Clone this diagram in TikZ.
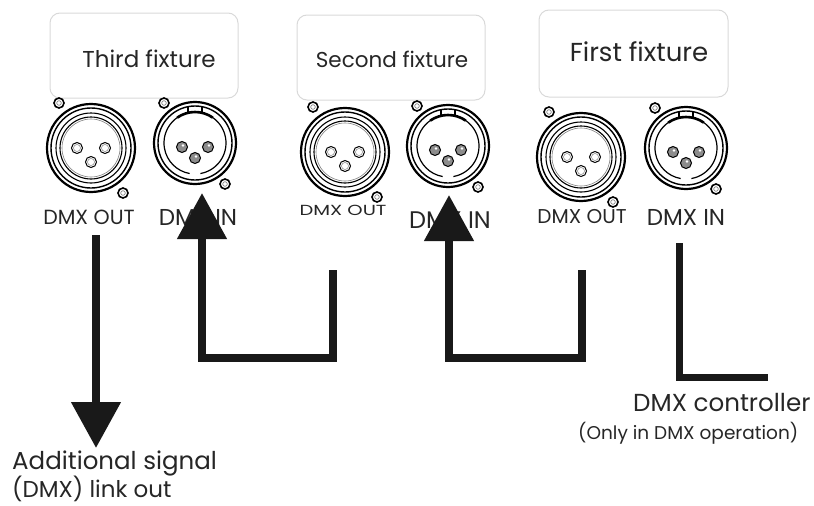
\documentclass[tikz,border=0pt]{standalone}
\usepackage{fontspec}
\setmainfont{Poppins}
\usetikzlibrary{arrows.meta}
\definecolor{boxgray}{gray}{0.85}
\tikzset{
  fixbox/.style={draw=boxgray, line width=1pt, rounded corners=10pt},
  lbl/.style={inner sep=0pt, text=black!85},
  cable/.style={line width=8pt, draw=black!90},
  tip/.style={-{Triangle[width=48pt,length=46pt]}},
  screw/.pic={
    \draw[line width=1.6pt] (0,0) circle (5pt);
    \draw[line width=0.5pt, black!60] (0,0) circle (2.3pt);
  },
  femaleconn/.pic={
    \draw[line width=2.2pt] (0,0) circle (44pt);
    \draw[line width=1.4pt] (0,0) circle (40pt);
    \draw[line width=1.1pt] (0,0) circle (35pt);
    \draw[line width=1.1pt] (0,0) circle (31pt);
    \draw[line width=0.6pt, black!50] (0,0) circle (29pt);
    \foreach \p in {(-14,0),(14,0),(0,14)}{
      \draw[line width=1pt] \p circle (5.5pt);
      \draw[line width=0.5pt, black!50] \p circle (3.5pt);
    }
    \pic at (-32,-45) {screw};
    \pic at (32,45) {screw};
  },
  maleconn/.pic={
    \draw[line width=2.2pt] (0,0) circle (41pt);
    \draw[line width=1.4pt] (0,0) circle (37pt);
    \draw[line width=1.2pt] (280:31pt) arc (280:620:31pt);
    \draw[line width=1.2pt] (-7,-30.5) -- (-7,-37) (7,-30.5) -- (7,-37);
    \draw[line width=2.6pt] (55:31pt) arc (55:125:31pt);
    \foreach \p in {(-13,4),(13,4),(0,15)}{
      \draw[line width=1pt, fill=black!45] \p circle (5.5pt);
      \fill[white] \p ++(1,-1.5) circle (1.3pt);
    }
    \pic at (-31,-40) {screw};
    \pic at (30,41) {screw};
  }
}
\begin{document}
\begin{tikzpicture}[x=1pt, y=-1pt]
\useasboundingbox (0,0) rectangle (814,506);
% fixture boxes
\draw[fixbox] (50,13) rectangle (238,98);
\node[lbl, font=\fontsize{23}{26}\selectfont] (t3) at (149,59) {Third fixture};
\draw[fixbox] (297,15) rectangle (485,100);
\node[lbl, font=\fontsize{21.5}{24}\selectfont] (t2) at (392,59) {Second fixture};
\draw[fixbox] (539,10) rectangle (728,97);
\node[lbl, font=\fontsize{26}{28}\selectfont] (t1) at (639,52) {First fixture};
% connectors
\pic at (91,148) {femaleconn};
\pic at (195,143) {maleconn};
\pic at (345,152) {femaleconn};
\pic at (448,146) {maleconn};
\pic at (581,157) {femaleconn};
\pic at (686,148) {maleconn};
% port labels
\node[lbl, font=\fontsize{20.5}{22}\selectfont] (o3) at (89,217) {DMX OUT};
\node[lbl, font=\fontsize{23}{24}\selectfont] (i3) at (198,217) {DMX IN};
\node[lbl, font=\fontsize{19.5}{22}\selectfont] (o2) at (343,210) {\scalebox{1}[0.75]{DMX OUT}};
\node[lbl, font=\fontsize{24}{26}\selectfont] (i2) at (450,220) {DMX IN};
\node[lbl, font=\fontsize{20}{22}\selectfont] (o1) at (582,217) {DMX OUT};
\node[lbl, font=\fontsize{23}{24}\selectfont] (i1) at (686,217) {DMX IN};
% bottom labels
\node[lbl, anchor=west, font=\fontsize{24.5}{26}\selectfont] (add1) at (12,463) {Additional signal};
\node[lbl, anchor=west, font=\fontsize{23}{26}\selectfont] (add2) at (12,489) {(DMX) link out};
\node[lbl, anchor=west, font=\fontsize{24.6}{26}\selectfont] (ctl) at (633,403) {DMX controller};
\node[lbl, anchor=west, font=\fontsize{18.5}{20}\selectfont] (ctl2) at (578,433) {(Only in DMX operation)};
% cable coordinates
\coordinate (aS) at (96,235);
\coordinate (aE) at (96,448);
\coordinate (b0) at (333,270);
\coordinate (b1) at (333,358);
\coordinate (b2) at (202,358);
\coordinate (bE) at (202,193);
\coordinate (c0) at (582,270);
\coordinate (c1) at (582,358);
\coordinate (c2) at (449,358);
\coordinate (cE) at (449,195);
\coordinate (d0) at (679,243);
\coordinate (d1) at (679,377);
\coordinate (d2) at (768,377);
% cables
\draw[cable, tip] (aS) -- (aE);
\draw[cable, tip] (b0) -- (b1) -- (b2) -- (bE);
\draw[cable, tip] (c0) -- (c1) -- (c2) -- (cE);
\draw[cable, line width=7pt] (d0) -- (d1) -- (d2);
\end{tikzpicture}
\end{document}
